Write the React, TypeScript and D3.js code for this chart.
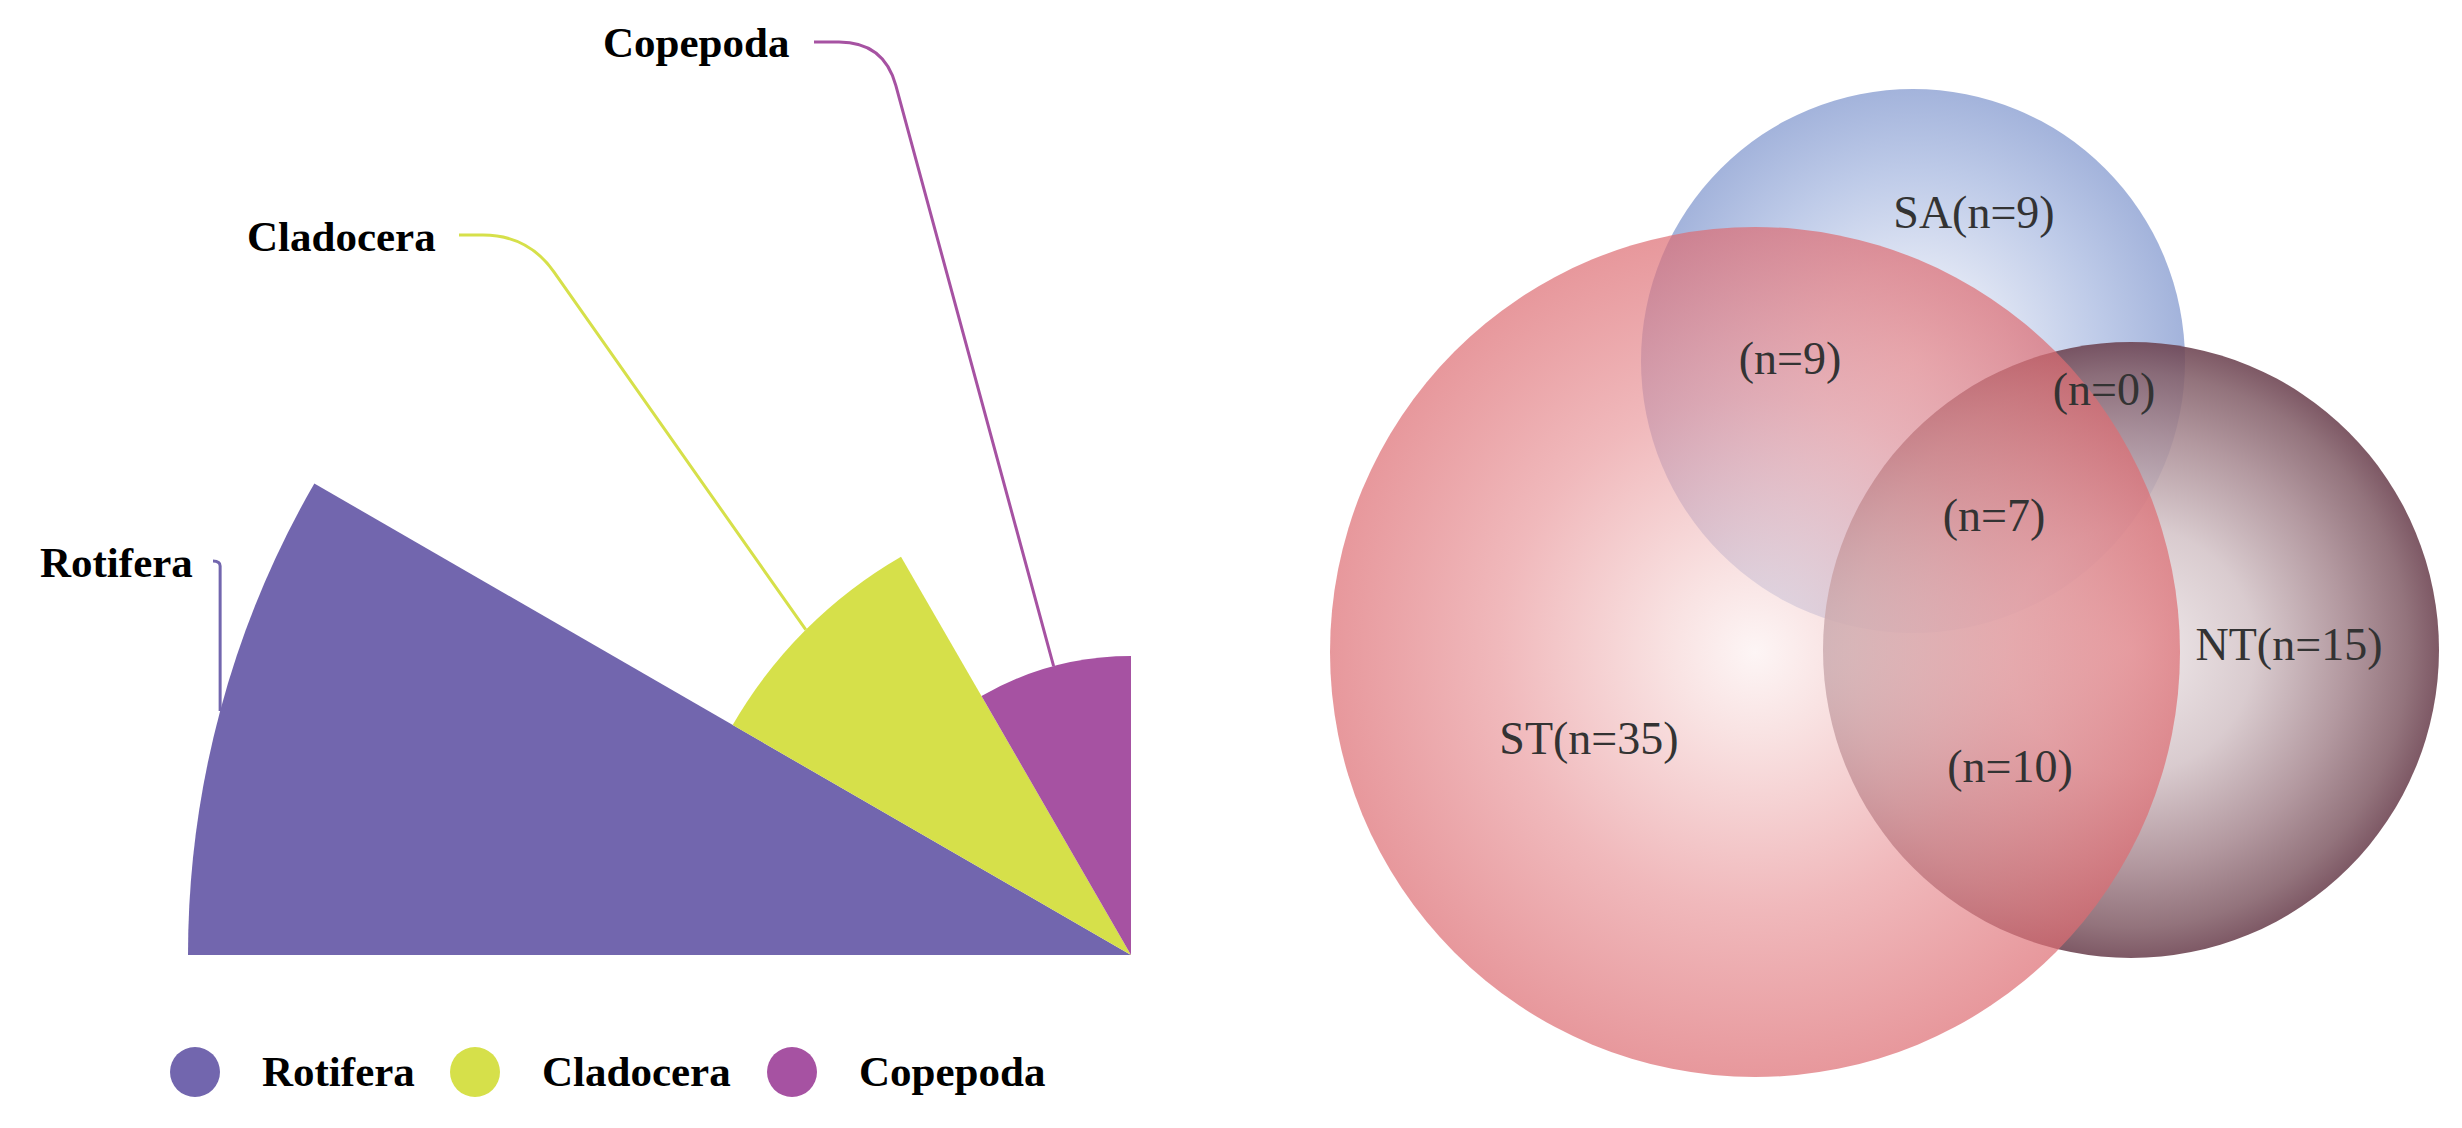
import React from 'react';
import * as d3 from 'd3';

// ---------- data ----------
const groups = ['Rotifera', 'Cladocera', 'Copepoda'];
const groupValues = [41, 20, 13];
const groupColors = ['#7266ae', '#d6e04a', '#a652a2'];

const vennSets = ['ST', 'SA', 'NT'];
const vennSetCounts = [35, 9, 15];
const vennOverlapNames = ['ST∩SA', 'SA∩NT', 'ST∩SA∩NT', 'ST∩NT'];
const vennOverlapCounts = [9, 0, 7, 10];

// ---------- layout ----------
const W = 2462;
const H = 1128;
const FONT = '"Liberation Serif", "Times New Roman", serif';

const roseCx = 1131;
const roseCy = 955;
const roseRMax = 943;

const labelLayout = [
  { tx: 40, ty: 577, corner: null as null | [number, number], end: [213, 561] as [number, number] },
  { tx: 247, ty: 251, corner: [528, 235] as [number, number], end: [459, 235] as [number, number] },
  { tx: 603, ty: 57, corner: [884, 42] as [number, number], end: [814, 42] as [number, number] },
];

const legendLayout = { xs: [195, 475, 792], y: 1072, r: 25, dx: 67 };

const vennCircles = [
  { cx: 1755, cy: 652, r: 425 },
  { cx: 1913, cy: 361, r: 272 },
  { cx: 2131, cy: 650, r: 308 },
];
const vennSetLabelPos = [
  [1589, 738],
  [1974, 212],
  [2289, 644],
];
const vennOverlapPos = [
  [1790, 358],
  [2104, 389],
  [1994, 515],
  [2010, 766],
];
const vennGradients = [
  { id: 'gST', stops: [['0', '#fcf1f1'], ['0.2', '#f6d6d6'], ['0.6', '#ea9b9f'], ['1', '#dd6c72']] },
  { id: 'gSA', stops: [['0', '#ebeff8'], ['0.35', '#d8dff1'], ['0.7', '#b2c1e4'], ['1', '#93a6d5']] },
  { id: 'gNT', stops: [['0', '#efe8ea'], ['0.4', '#d4c4c8'], ['0.7', '#a88a92'], ['0.9', '#84606a'], ['1', '#6c4250']] },
];
const vennOpacity = [0.7, 0.85, 0.88];
const drawOrder = [1, 2, 0];

export default function App() {
  const rScale = d3.scaleLinear().domain([0, d3.max(groupValues) as number]).range([0, roseRMax]);
  const pie = d3
    .pie<number>()
    .sort(null)
    .value(() => 1)
    .startAngle(-Math.PI / 2)
    .endAngle(0);
  const arcs = pie(groupValues);
  const arcGen = d3.arc<d3.PieArcDatum<number>>().innerRadius(0);

  const leaderPaths = arcs.map((a, i) => {
    const r = rScale(groupValues[i]);
    const mid = (a.startAngle + a.endAngle) / 2;
    const p0: [number, number] = [roseCx + Math.sin(mid) * r, roseCy - Math.cos(mid) * r];
    const L = labelLayout[i];
    const path = d3.path();
    path.moveTo(p0[0], p0[1]);
    if (!L.corner) {
      path.lineTo(p0[0], L.end[1] + 5);
      path.quadraticCurveTo(p0[0], L.end[1], L.end[0], L.end[1]);
    } else {
      const [cx, cy] = L.corner;
      const dx = p0[0] - cx;
      const dy = p0[1] - cy;
      const len = Math.hypot(dx, dy);
      const rr = 45;
      const q1: [number, number] = [cx + (dx / len) * rr, cy + (dy / len) * rr];
      path.lineTo(q1[0], q1[1]);
      path.quadraticCurveTo(cx, cy, cx - rr, cy);
      path.lineTo(L.end[0], L.end[1]);
    }
    return path.toString();
  });

  return (
    <svg
      width={W}
      height={H}
      viewBox={`0 0 ${W} ${H}`}
      style={{ position: 'absolute', left: 0, top: 0, display: 'block', background: '#fff' }}
    >
      <defs>
        {vennGradients.map((g) => (
          <radialGradient key={g.id} id={g.id} cx="50%" cy="50%" r="50%">
            {g.stops.map(([o, c]) => (
              <stop key={o} offset={o} stopColor={c} />
            ))}
          </radialGradient>
        ))}
      </defs>

      {/* rose chart */}
      <g transform={`translate(${roseCx},${roseCy})`}>
        {arcs.map((a, i) => (
          <path
            key={groups[i]}
            d={arcGen.outerRadius(rScale(groupValues[i]))(a) as string}
            fill={groupColors[i]}
          />
        ))}
      </g>
      {leaderPaths.map((d, i) => (
        <path key={'l' + i} d={d} fill="none" stroke={groupColors[i]} strokeWidth={3} />
      ))}
      {groups.map((g, i) => (
        <text
          key={'t' + g}
          x={labelLayout[i].tx}
          y={labelLayout[i].ty}
          fontFamily={FONT}
          fontWeight="bold"
          fontSize={43}
          fill="#000"
        >
          {g}
        </text>
      ))}

      {/* legend */}
      {groups.map((g, i) => (
        <g key={'lg' + g}>
          <circle cx={legendLayout.xs[i]} cy={legendLayout.y} r={legendLayout.r} fill={groupColors[i]} />
          <text
            x={legendLayout.xs[i] + legendLayout.dx}
            y={legendLayout.y + 14}
            fontFamily={FONT}
            fontWeight="bold"
            fontSize={43}
            fill="#000"
          >
            {g}
          </text>
        </g>
      ))}

      {/* venn */}
      <g>
        {drawOrder.map((i) => (
          <circle
            key={vennSets[i]}
            cx={vennCircles[i].cx}
            cy={vennCircles[i].cy}
            r={vennCircles[i].r}
            fill={`url(#${vennGradients[i].id})`}
            fillOpacity={vennOpacity[i]}
          />
        ))}
        {vennSets.map((s, i) => (
          <text
            key={'vs' + s}
            x={vennSetLabelPos[i][0]}
            y={vennSetLabelPos[i][1]}
            textAnchor="middle"
            dominantBaseline="central"
            fontFamily={FONT}
            fontSize={46}
            fill="#333"
          >
            {`${s}(n=${vennSetCounts[i]})`}
          </text>
        ))}
        {vennOverlapNames.map((nm, i) => (
          <text
            key={'vo' + nm}
            x={vennOverlapPos[i][0]}
            y={vennOverlapPos[i][1]}
            textAnchor="middle"
            dominantBaseline="central"
            fontFamily={FONT}
            fontSize={46}
            fill="#333"
          >
            {`(n=${vennOverlapCounts[i]})`}
          </text>
        ))}
      </g>
    </svg>
  );
}
